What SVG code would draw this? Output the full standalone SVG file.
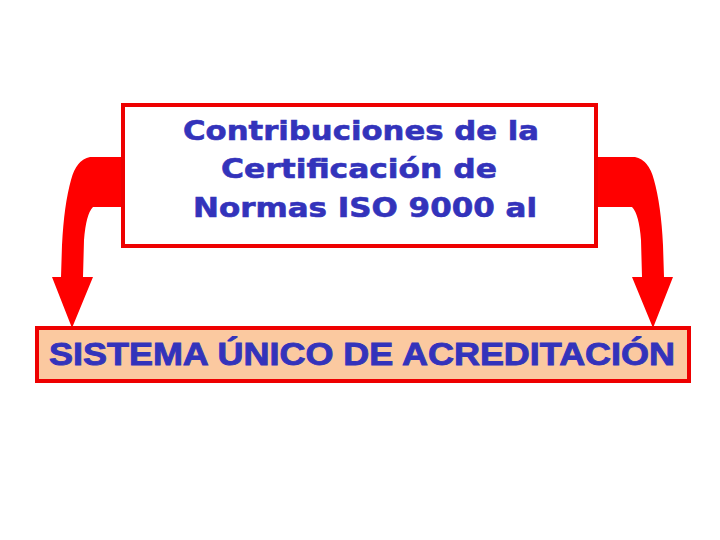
<svg xmlns="http://www.w3.org/2000/svg" width="720" height="540" viewBox="0 0 720 540">
<style>
.arrow{fill:#ff0000;stroke:none}
.box{stroke:#ee0000;stroke-width:4}
.t1{font-family:"DejaVu Sans",Verdana,sans-serif;font-weight:bold;font-size:27px;fill:#3333bb;stroke:#3333bb;stroke-width:0.6;text-anchor:middle}
.t2{font-family:"Liberation Sans",Arial,sans-serif;font-weight:bold;font-size:32px;fill:#3333bb;stroke:#3333bb;stroke-width:0.9;text-anchor:middle}
</style>
<rect width="720" height="540" fill="#ffffff"/>
<g id="connectors">
<path class="arrow" d="M127,157 L90,157 Q76,160 71,180 Q64,205 62,245 L61,277 L52,277 L72,328 L93,277 L83,277 L84,240 Q86,214 93,207 L127,207 Z"/>
<path class="arrow" d="M598,157 L635,157 Q649,160 654,180 Q661,205 663,245 L664,277 L673,277 L653,328 L632,277 L642,277 L641,240 Q639,214 632,207 L598,207 Z"/>
</g>
<g id="top-node">
<rect class="box" x="123" y="105" width="473" height="141" fill="#ffffff"/>
<text class="t1" x="361" y="140" textLength="356" lengthAdjust="spacingAndGlyphs">Contribuciones de la</text>
<text class="t1" x="359" y="178" textLength="276" lengthAdjust="spacingAndGlyphs">Certificación de</text>
<text class="t1" x="365" y="217" textLength="344" lengthAdjust="spacingAndGlyphs">Normas ISO 9000 al</text>
</g>
<g id="bottom-node">
<rect class="box" x="37" y="328" width="652" height="53" fill="#fbc9a0"/>
<text class="t2" x="362" y="365" textLength="626" lengthAdjust="spacingAndGlyphs">SISTEMA ÚNICO DE ACREDITACIÓN</text>
</g>
</svg>
